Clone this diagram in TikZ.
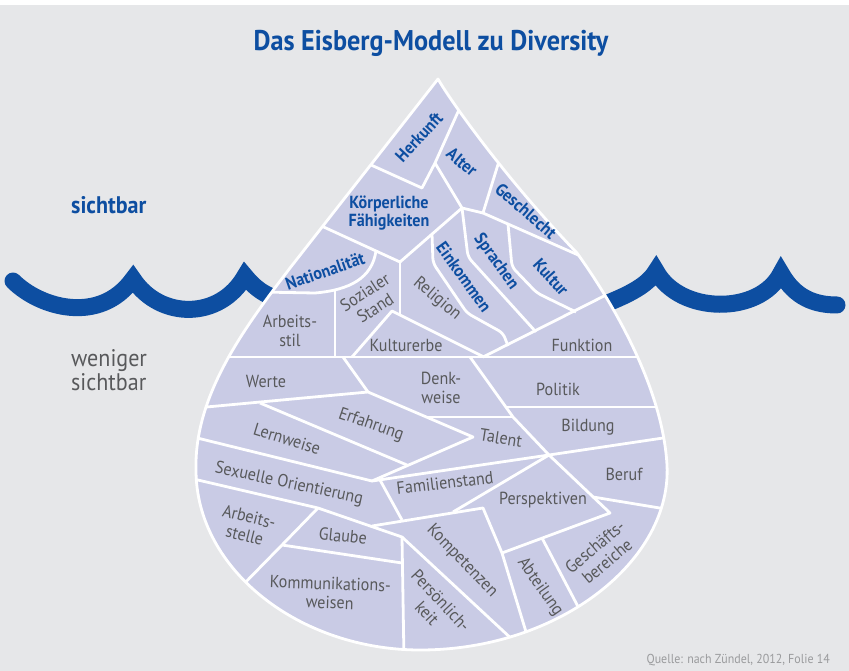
\documentclass[tikz,border=0pt]{standalone}
\usepackage{fontspec}
\setmainfont{PT Sans}[FakeStretch=0.92]
\definecolor{bg}{HTML}{E6E7E9}
\definecolor{ice}{HTML}{C9CBE5}
\definecolor{sea}{HTML}{0D4EA1}
\definecolor{txt}{HTML}{58595B}
\definecolor{src}{HTML}{9A9B9D}
% outline of the iceberg drop
\def\dropoutline{(438,79) .. controls (450,100) and (505,178) .. (577,253)
  .. controls (595,278) and (662,375) .. (667,465)
  .. controls (672,560) and (560,650) .. (420,650)
  .. controls (300,650) and (196,570) .. (196,470)
  .. controls (194,395) and (245,327) .. (290,268) -- cycle}
\begin{document}
\begin{tikzpicture}[x=1pt,y=-1pt,
  seam/.style={white, line width=2.8pt, line join=round},
  lbl/.style={text=txt, font=\fontsize{17.5}{19}\selectfont, inner sep=0pt, align=center},
  vis/.style={text=sea, font=\bfseries\fontsize{17.5}{17.5}\selectfont, inner sep=0pt, align=center},
  wave/.style={draw=sea, line width=17pt, line join=miter, miter limit=10, line cap=round}]
\useasboundingbox (0,0) rectangle (849,671);
\fill[bg] (0,5) rectangle (849,671);
\fill[white] (0,0) rectangle (849,5);

% title
\node[text=sea, font=\bfseries\fontsize{28.5}{32}\selectfont, anchor=base] (title) at (431,51) {Das Eisberg-Modell zu Diversity};

% water surface
\draw[wave] (13,281) .. controls (40,308) and (100,325) .. (133,279)
  .. controls (160,320) and (220,320) .. (245,276)
  .. controls (258,292) and (272,300) .. (295,302);
\draw[wave] (585,312) .. controls (615,300) and (645,290) .. (656,271)
  .. controls (680,315) and (760,315) .. (781,273)
  .. controls (795,298) and (815,305) .. (837,305);

% iceberg body
\fill[ice] \dropoutline;
\begin{scope}
\clip \dropoutline;
% visible tip
\draw[seam] (360,160) -- (422,188) -- (435,163) -- (462,103);
\draw[seam] (435,163) -- (462,208);
\draw[seam] (462,208) -- (483,213) -- (585,258);
\draw[seam] (483,213) -- (500,158);
\draw[seam] (315,223) -- (400,262) -- (462,208);
\draw[seam] (260,292) -- (315,293) .. controls (350,290) and (372,278) .. (376,251);
\draw[seam] (335,289) -- (335,357);
\draw[seam] (400,262) -- (400,315);
\draw[seam] (352,357) -- (392,311) -- (484,357);
\draw[seam, rounded corners=5pt] (432,234) -- (433,263) -- (467,313) -- (503,333) -- (508,346);
\draw[seam, rounded corners=5pt] (462,208) -- (468,257) -- (536,332);
\draw[seam, rounded corners=5pt] (508,224) -- (512,267) -- (537,293) -- (576,312);
\draw[seam] (483,357) -- (612,292);
\draw[seam] (180,357) -- (690,357);
% hidden part
\draw[seam] (343,357) -- (368,392);
\draw[seam] (185,409) -- (368,392) -- (473,437) -- (372,481);
\draw[seam] (427,417) -- (513,417);
\draw[seam] (470,357) -- (513,417) -- (549,455);
\draw[seam] (506,407) -- (690,407);
\draw[seam] (260,403) -- (407,465);
\draw[seam] (185,435) -- (372,481) -- (549,455);
\draw[seam] (380,480) -- (402,520);
\draw[seam] (185,477) -- (318,508) -- (402,537) -- (515,642);
\draw[seam] (372,526) -- (483,508) -- (502,553) -- (530,645);
\draw[seam] (549,455) -- (453,512);
\draw[seam] (502,553) -- (610,513) -- (549,455) -- (690,434);
\draw[seam] (593,497) -- (690,513);
\draw[seam] (542,538) -- (584,618);
\draw[seam] (402,537) -- (404,660);
\draw[seam] (318,508) -- (282,545) -- (236,592);
\draw[seam] (282,545) -- (402,563);
\end{scope}
\draw[seam] \dropoutline;

% visible dimensions
\node[vis, rotate=47] (herkunft) at (419,137) {Herkunft};
\node[vis, rotate=-40] (alter) at (462,162) {Alter};
\node[vis, rotate=-41] (geschlecht) at (526,211) {Geschlecht};
\node[vis] (koerper) at (389,213) {Körperliche\\Fähigkeiten};
\node[vis, rotate=19] (nation) at (325,271) {Nationalität};
\node[vis, rotate=-54] (einkommen) at (464,277) {Einkommen};
\node[vis, rotate=-54] (sprachen) at (496,262) {Sprachen};
\node[vis, rotate=-48] (kultur) at (551,277) {Kultur};

% less visible dimensions
\node[lbl, rotate=33] (sozial) at (370,300) {Sozialer\\Stand};
\node[lbl, rotate=-40] (religion) at (437,299) {Religion};
\node[lbl] (arbeitsstil) at (290,331) {Arbeits-\\stil};
\node[lbl] (kulturerbe) at (406,345) {Kulturerbe};
\node[lbl] (funktion) at (582,345) {Funktion};
\node[lbl] (werte) at (266,381) {Werte};
\node[lbl] (denkweise) at (441,388) {Denk-\\weise};
\node[lbl] (politik) at (558,389) {Politik};
\node[lbl, rotate=-19] (erfahrung) at (371,425) {Erfahrung};
\node[lbl, rotate=-9] (talent) at (501,438) {Talent};
\node[lbl] (bildung) at (588,427) {Bildung};
\node[lbl, rotate=-17] (lernweise) at (287,439) {Lernweise};
\node[lbl, rotate=-12] (sexuell) at (289,484) {Sexuelle Orientierung};
\node[lbl, rotate=7] (familie) at (445,483) {Familienstand};
\node[lbl] (beruf) at (624,474) {Beruf};
\node[lbl] (perspektive) at (543,500) {Perspektiven};
\node[lbl, rotate=-14] (arbeitsstelle) at (247,526) {Arbeits-\\stelle};
\node[lbl, rotate=-6] (glaube) at (343,536) {Glaube};
\node[lbl, rotate=-2] (kommunikation) at (330,593) {Kommunikations-\\weisen};
\node[lbl, rotate=-46] (kompetenz) at (462,561) {Kompetenzen};
\node[lbl, rotate=-47] (persoenlich) at (434,607) {Persönlich-\\keit};
\node[lbl, rotate=-55] (abteilung) at (540,587) {Abteilung};
\node[lbl, rotate=40] (geschaeft) at (601,554) {Geschäfts-\\bereiche};

% side captions
\node[anchor=west, text=sea, font=\bfseries\fontsize{24}{26}\selectfont, inner sep=0pt] (sichtbar) at (71,205) {sichtbar};
\node[anchor=west, align=left, text=txt, font=\fontsize{24}{24}\selectfont, inner sep=0pt] (weniger) at (71,370) {weniger\\sichtbar};

% source
\node[anchor=east, text=src, font=\fontsize{13}{15}\selectfont, inner sep=0pt] (quelle) at (830,660) {Quelle: nach Zündel, 2012, Folie 14};
\end{tikzpicture}
\end{document}
